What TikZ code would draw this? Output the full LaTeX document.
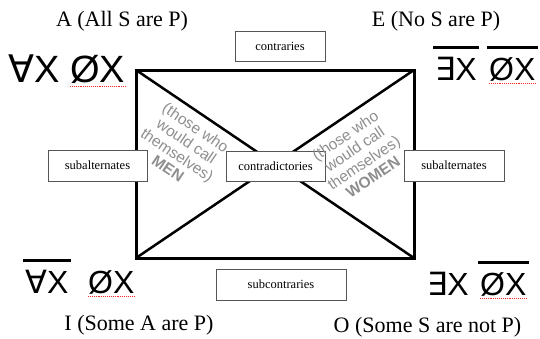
\documentclass[tikz,border=0pt]{standalone}
\usepackage{fontspec}
\setmainfont{Liberation Serif}
\newfontfamily\arialf{Liberation Sans}
\newfontfamily\djv{DejaVu Sans}
\definecolor{graytxt}{HTML}{8E8E8E}
\definecolor{boxline}{HTML}{555555}
\begin{document}
\begin{tikzpicture}[x=1pt,y=-1pt,
  frame/.style={line width=3pt,line join=miter},
  diag/.style={line width=2.5pt},
  labelbox/.style={draw=boxline,line width=0.8pt,fill=white,inner sep=0pt,
    font=\fontsize{12.5}{14}\selectfont},
  title/.style={font=\fontsize{22}{24}\selectfont,anchor=base,inner sep=0pt},
  fbig/.style={font=\arialf\fontsize{38}{38}\selectfont,inner sep=0pt,text depth=0pt,anchor=base west},
  fsmall/.style={font=\arialf\fontsize{32}{32}\selectfont,inner sep=0pt,text depth=0pt,anchor=base west},
  ovl/.style={line width=3pt},
  squig/.style={red!85,densely dotted,line width=0.9pt},
  graynote/.style={text=graytxt,align=center,inner sep=0pt,
    font=\arialf\fontsize{15.5}{16.5}\selectfont}
]
\useasboundingbox (0,0) rectangle (540,338);
% corners
\coordinate (cA) at (136,70);
\coordinate (cE) at (414,70);
\coordinate (cI) at (136,258);
\coordinate (cO) at (414,258);
\draw[frame] (cA) -- (cE) -- (cO) -- (cI) -- cycle;
\draw[diag] (cA) -- (cO);
\draw[diag] (cE) -- (cI);
% boxes
\node[labelbox,minimum width=90pt,minimum height=30pt] (contr) at (280,46) {contraries};
\node[labelbox,minimum width=99pt,minimum height=31pt] (subL) at (97.5,165.5) {subalternates};
\node[labelbox,minimum width=99pt,minimum height=30pt] (contra) at (275.5,166) {contradictories};
\node[labelbox,minimum width=100pt,minimum height=31pt] (subR) at (454,165.5) {subalternates};
\node[labelbox,minimum width=130pt,minimum height=31pt] (subc) at (281,284.5) {subcontraries};
% titles
\node[title] (tA) at (122,26) {A (All S are P)};
\node[title] (tE) at (436,26) {E (No S are P)};
\node[title] (tI) at (139,330) {I (Some A are P)};
\node[title] (tO) at (427.5,332) {O (Some S are not P)};
% formulas
\node[fbig] (a1) at (8,82) {{\djv ∀}X};
\node[fbig] (a2) at (70,82) {ØX};
\draw[squig] ([yshift=-4pt]a2.south west) -- ([yshift=-4pt]a2.south east);

\node[fsmall] (e1) at (435,80) {{\djv ∃}X};
\node[fsmall] (e2) at (489,80) {ØX};
\draw[ovl] ([xshift=-2pt,yshift=9pt]e1.north west) -- ([xshift=2pt,yshift=9pt]e1.north east);
\draw[ovl] ([xshift=-2pt,yshift=9pt]e2.north west) -- ([xshift=2pt,yshift=9pt]e2.north east);
\draw[squig] ([yshift=-3pt]e2.south west) -- ([yshift=-3pt]e2.south east);

\node[fsmall] (i1) at (25,293) {{\djv ∀}X};
\node[fsmall] (i2) at (88,293) {ØX};
\draw[ovl] ([xshift=-2pt,yshift=9pt]i1.north west) -- ([xshift=2pt,yshift=9pt]i1.north east);
\draw[squig] ([yshift=-3pt]i2.south west) -- ([yshift=-3pt]i2.south east);

\node[fsmall] (o1) at (427,295) {{\djv ∃}X};
\node[fsmall] (o2) at (480,295) {ØX};
\draw[ovl] ([xshift=-2pt,yshift=9pt]o2.north west) -- ([xshift=2pt,yshift=9pt]o2.north east);
\draw[squig] ([yshift=-3pt]o2.south west) -- ([yshift=-3pt]o2.south east);
% gray notes
\node[graynote,rotate=-34] (men) at (182,148) {(those who\\would call\\themselves)\\\textbf{MEN}};
\node[graynote,rotate=34] (women) at (359,156) {(those who\\would call\\themselves)\\\textbf{WOMEN}};
\end{tikzpicture}
\end{document}
